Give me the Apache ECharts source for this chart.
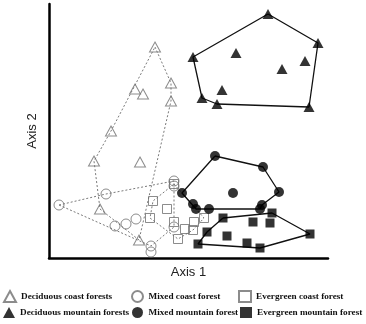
<!DOCTYPE html>
<html>
<head>
<meta charset="utf-8">
<script src="https://cdn.jsdelivr.net/npm/echarts@6/dist/echarts.min.js"></script>
<style>
  html, body { margin: 0; padding: 0; background: #fff; }
  #chart { width: 366px; height: 324px; }
</style>
</head>
<body>
<div id="chart"></div>
<script>
// Ordination scores (arbitrary axis units) for each forest type
const deciduousCoast = [
  [106, 211], [122, 175], [86, 169], [94, 164], [122, 157],
  [62, 127], [45, 97], [91, 96], [51, 49], [90, 18]
];
const mixedCoast = [
  [10, 53], [57, 64], [125, 77], [125, 72], [87, 39],
  [66, 32], [77, 34], [125, 31], [102, 12], [102, 6]
];
const evergreenCoast = [
  [125, 74], [104, 57], [118, 49], [101, 40], [125, 36],
  [145, 36], [155, 40], [136, 29], [144, 28], [129, 19]
];
const deciduousMountain = [
  [219, 244], [269, 215], [144, 201], [187, 205], [256, 197],
  [233, 189], [173, 168], [153, 160], [168, 154], [260, 151]
];
const mixedMountain = [
  [166, 102], [214, 91], [230, 66], [133, 65], [184, 65],
  [144, 54], [147, 49], [160, 49], [213, 53], [211, 49]
];
const evergreenMountain = [
  [174, 40], [223, 45], [204, 36], [221, 35], [261, 24],
  [158, 26], [178, 22], [149, 14], [198, 15], [211, 10]
];

// Convex hull outlines, given as indices into each group
const hullDeciduousCoast = [0, 1, 4, 9, 8, 6, 5];
const hullMixedCoast = [0, 1, 2, 7, 8];
const hullEvergreenCoast = [0, 6, 8, 9, 3, 1];
const hullDeciduousMountain = [0, 1, 9, 8, 7, 2];
const hullMixedMountain = [0, 1, 2, 8, 9, 7, 6, 3];
const hullEvergreenMountain = [0, 1, 4, 9, 7, 5];

const groupNames = [
  'Deciduous coast forests', 'Mixed coast forest', 'Evergreen coast forest',
  'Deciduous mountain forests', 'Mixed mountain forest', 'Evergreen mountain forest'
];

function hullPath(points, idx) {
  const path = idx.map(i => points[i]);
  path.push(points[idx[0]]);
  return path;
}

const coastLine = { color: '#7a7a7a', width: 1, type: [2, 2] };
const mountainLine = { color: '#111', width: 1.3, type: 'solid' };
const openStyle = { color: 'rgba(255,255,255,0)', borderColor: '#6f6f6f', borderWidth: 1 };
const filledStyle = { color: '#000', borderColor: '#000', borderWidth: 0 };

function hullSeries(points, idx, style) {
  return {
    type: 'line', data: hullPath(points, idx), symbol: 'none',
    lineStyle: style, silent: true, z: 1, animation: false
  };
}
function pointSeries(name, points, symbol, size, style) {
  return {
    name: name, type: 'scatter', data: points, symbol: symbol,
    symbolSize: size, itemStyle: style, z: 3, animation: false
  };
}

const legendText = { fontFamily: 'Liberation Serif', fontWeight: 'bold', fontSize: 9.2, color: '#111' };
const legendSpots = [
  { left: 3, top: 290 }, { left: 131, top: 290 }, { left: 238, top: 290 },
  { left: 3, top: 307 }, { left: 132, top: 307 }, { left: 240, top: 307 }
];

const chart = echarts.init(document.getElementById('chart'), null, { renderer: 'canvas' });
chart.setOption({
  backgroundColor: '#fff',
  animation: false,
  grid: { left: 49, top: 4, right: 38, bottom: 66 },
  xAxis: {
    type: 'value', min: 0, max: 279,
    name: 'Axis 1', nameLocation: 'middle', nameGap: 8,
    nameTextStyle: { fontFamily: 'Liberation Sans', fontSize: 13, color: '#222' },
    axisLine: { show: true, lineStyle: { color: '#000', width: 2.5 } },
    axisTick: { show: false }, axisLabel: { show: false }, splitLine: { show: false }
  },
  yAxis: {
    type: 'value', min: 0, max: 254,
    name: 'Axis 2', nameLocation: 'middle', nameGap: 10,
    nameTextStyle: { fontFamily: 'Liberation Sans', fontSize: 13, color: '#222' },
    axisLine: { show: true, lineStyle: { color: '#000', width: 2.5 } },
    axisTick: { show: false }, axisLabel: { show: false }, splitLine: { show: false }
  },
  legend: legendSpots.map((spot, i) => ({
    data: [groupNames[i]], left: spot.left, top: spot.top,
    itemWidth: 12, itemHeight: 11, itemGap: 4, padding: 0,
    textStyle: legendText, selectedMode: false
  })),
  series: [
    hullSeries(deciduousCoast, hullDeciduousCoast, coastLine),
    hullSeries(mixedCoast, hullMixedCoast, coastLine),
    hullSeries(evergreenCoast, hullEvergreenCoast, coastLine),
    hullSeries(deciduousMountain, hullDeciduousMountain, mountainLine),
    hullSeries(mixedMountain, hullMixedMountain, mountainLine),
    hullSeries(evergreenMountain, hullEvergreenMountain, mountainLine),
    pointSeries(groupNames[0], deciduousCoast, 'triangle', [11, 10], openStyle),
    pointSeries(groupNames[1], mixedCoast, 'circle', 10, openStyle),
    pointSeries(groupNames[2], evergreenCoast, 'rect', 9, openStyle),
    pointSeries(groupNames[3], deciduousMountain, 'triangle', [11, 10], filledStyle),
    pointSeries(groupNames[4], mixedMountain, 'circle', 10, filledStyle),
    pointSeries(groupNames[5], evergreenMountain, 'rect', 9, filledStyle)
  ]
});
</script>
</body>
</html>
